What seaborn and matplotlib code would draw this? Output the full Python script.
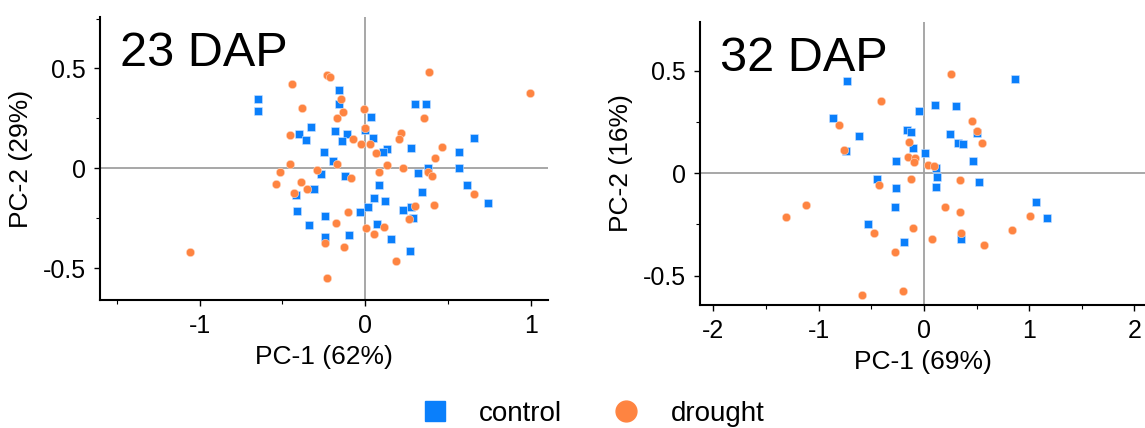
import numpy as np
import pandas as pd
import seaborn as sns
import matplotlib.pyplot as plt
from matplotlib.ticker import MultipleLocator
from matplotlib.lines import Line2D

# ---------------- data ----------------
groups = ["control", "drought"]
panel_titles = ["23 DAP", "32 DAP"]
xlabels = ["PC-1 (62%)", "PC-1 (69%)"]
ylabels = ["PC-2 (29%)", "PC-2 (16%)"]

ctrl23_x = [-0.648, -0.648, -0.157, -0.161, 0.037, -0.325, -0.401, -0.358, -0.182, -0.108,
            -0.141, -0.002, 0.048, 0.302, 0.367, 0.277, 0.131, 0.108, 0.655, 0.567,
            0.567, -0.251, -0.196, -0.268, -0.122, 0.381, 0.321, 0.614, 0.346, 0.740,
            0.083, -0.311, -0.418, -0.411, 0.053, 0.122, 0.016, -0.030, 0.226, 0.279,
            0.286, 0.072, -0.341, -0.245, -0.245, -0.099, 0.155, 0.272]
ctrl23_y = [0.348, 0.287, 0.393, 0.323, 0.257, 0.207, 0.170, 0.143, 0.185, 0.170,
            0.137, 0.193, 0.152, 0.320, 0.320, 0.100, 0.097, 0.082, 0.153, 0.080,
            0.000, 0.083, 0.038, -0.028, -0.040, 0.000, -0.023, -0.085, -0.118, -0.172,
            -0.082, -0.103, -0.132, -0.213, -0.148, -0.163, -0.193, -0.220, -0.210, -0.193,
            -0.248, -0.280, -0.285, -0.238, -0.342, -0.335, -0.355, -0.413]
drou23_x = [-1.059, -0.445, -0.233, -0.212, 0.388, 0.997, -0.381, -0.145, -0.134, -0.173,
            -0.007, 0.355, -0.452, -0.072, -0.023, 0.030, 0.000, 0.217, 0.203, 0.067,
            0.466, 0.424, -0.457, -0.517, -0.168, 0.129, 0.226, -0.291, 0.381, 0.404,
            0.083, -0.088, -0.537, -0.388, -0.353, -0.431, 0.655, 0.415, 0.302, -0.104,
            -0.178, 0.265, 0.113, 0.007, 0.055, -0.242, -0.127, 0.187, -0.231]
drou23_y = [-0.417, 0.423, 0.465, 0.457, 0.482, 0.377, 0.303, 0.348, 0.282, 0.253,
            0.298, 0.250, 0.168, 0.148, 0.123, 0.123, 0.203, 0.175, 0.147, 0.075,
            0.105, 0.052, 0.022, -0.017, 0.022, 0.018, 0.000, -0.008, -0.018, -0.040,
            -0.020, -0.050, -0.077, -0.068, -0.103, -0.122, -0.130, -0.185, -0.190, -0.220,
            -0.275, -0.255, -0.292, -0.297, -0.330, -0.372, -0.392, -0.465, -0.550]

ctrl32_x = [-0.728, 0.863, 0.109, 0.300, -0.049, -0.860, -0.616, -0.165, -0.122, 0.250,
            0.504, 0.320, 0.372, -0.109, -0.745, 0.007, -0.267, 0.465, 0.112, 0.125,
            -0.442, 0.521, -0.267, 0.119, -0.277, 1.061, 1.170, -0.534, -0.194, 0.356]
ctrl32_y = [0.449, 0.460, 0.335, 0.330, 0.302, 0.270, 0.182, 0.210, 0.203, 0.190,
            0.198, 0.145, 0.141, 0.122, 0.109, 0.098, 0.060, 0.060, 0.024, -0.020,
            -0.031, -0.041, -0.075, -0.070, -0.166, -0.141, -0.218, -0.250, -0.338, -0.322]
drou32_x = [0.260, -0.405, -0.807, -0.764, 0.455, 0.504, 0.550, -0.142, -0.155, -0.086,
            -0.092, 0.036, 0.096, -0.432, -0.125, 0.339, -1.120, -1.315, 0.204, 0.339,
            1.005, 0.840, -0.102, -0.474, 0.356, 0.079, 0.573, -0.280, -0.593, -0.198]
drou32_y = [0.485, 0.352, 0.237, 0.112, 0.254, 0.207, 0.145, 0.153, 0.081, 0.073,
            0.055, 0.041, 0.036, -0.057, -0.029, -0.033, -0.158, -0.215, -0.166, -0.190,
            -0.207, -0.278, -0.267, -0.294, -0.294, -0.322, -0.351, -0.384, -0.597, -0.574]

def make_df(cx, cy, dx, dy):
    return pd.DataFrame({
        "x": cx + dx,
        "y": cy + dy,
        "group": [groups[0]] * len(cx) + [groups[1]] * len(dx),
    })

dfs = [make_df(ctrl23_x, ctrl23_y, drou23_x, drou23_y),
       make_df(ctrl32_x, ctrl32_y, drou32_x, drou32_y)]

# ---------------- style ----------------
sns.set_theme(style="ticks")
plt.rcParams["font.family"] = ["Liberation Sans", "DejaVu Sans"]
plt.rcParams["text.color"] = "black"
plt.rcParams["axes.labelcolor"] = "black"
plt.rcParams["xtick.labelcolor"] = "black"
plt.rcParams["ytick.labelcolor"] = "black"

palette = {"control": "#0a7ffb", "drought": "#fe8441"}
markers = {"control": "s", "drought": "o"}
sizes = {"control": 38, "drought": 36}

fig = plt.figure(figsize=(11.45, 4.28), dpi=100)
ax1 = fig.add_axes([100 / 1145, 128 / 428, 448 / 1145, 283 / 428])
ax2 = fig.add_axes([700 / 1145, 123 / 428, 445 / 1145, 283 / 428])
axes = [ax1, ax2]

limits = [((-1.603, 1.105), (-0.66, 0.758)), ((-2.128, 2.10), (-0.644, 0.738))]
xmajor = [[-1, 0, 1], [-2, -1, 0, 1, 2]]

for i, ax in enumerate(axes):
    df = dfs[i]
    ax.axhline(0, color="#a0a0a0", lw=1.3, zorder=0)
    ax.axvline(0, color="#a0a0a0", lw=1.3, zorder=0)
    for g in groups:
        sub = df[df["group"] == g]
        sns.scatterplot(data=sub, x="x", y="y", ax=ax, color=palette[g],
                        marker=markers[g], s=sizes[g], linewidth=0.4,
                        edgecolor="#cfe3ff" if g == "control" else "#ffd9c4",
                        legend=False, zorder=3)
    ax.set_xlim(*limits[i][0])
    ax.set_ylim(*limits[i][1])
    ax.set_xticks(xmajor[i])
    ax.set_xticklabels([str(v) for v in xmajor[i]])
    ax.set_yticks([-0.5, 0, 0.5])
    ax.set_yticklabels(["-0.5", "0", "0.5"])
    ax.xaxis.set_minor_locator(MultipleLocator(0.5))
    ax.yaxis.set_minor_locator(MultipleLocator(0.25))
    ax.tick_params(which="major", length=4, width=1, labelsize=18, color="black",
                   labelcolor="black", pad=6)
    ax.tick_params(which="minor", length=3, width=0.8, color="black")
    for s in ["top", "right"]:
        ax.spines[s].set_visible(False)
    for s in ["left", "bottom"]:
        ax.spines[s].set_linewidth(1.5)
        ax.spines[s].set_color("black")
    ax.set_xlabel(xlabels[i], fontsize=19, labelpad=5, color="black")
    ax.set_ylabel(ylabels[i], fontsize=19, labelpad=7, color="black")
    ax.text(0.045, 0.95, panel_titles[i], transform=ax.transAxes, fontsize=35,
            va="top", ha="left", color="black")

handles = [Line2D([], [], ls="", marker="s", markersize=15, color=palette["control"]),
           Line2D([], [], ls="", marker="o", markersize=15, color=palette["drought"])]
leg = fig.legend(handles, groups, loc="lower center", bbox_to_anchor=(0.5115, -0.056), ncol=2,
                 frameon=False, fontsize=20, handletextpad=0.6, columnspacing=1.3)
for t in leg.get_texts():
    t.set_color("black")

fig.savefig("out.png", dpi=100)
